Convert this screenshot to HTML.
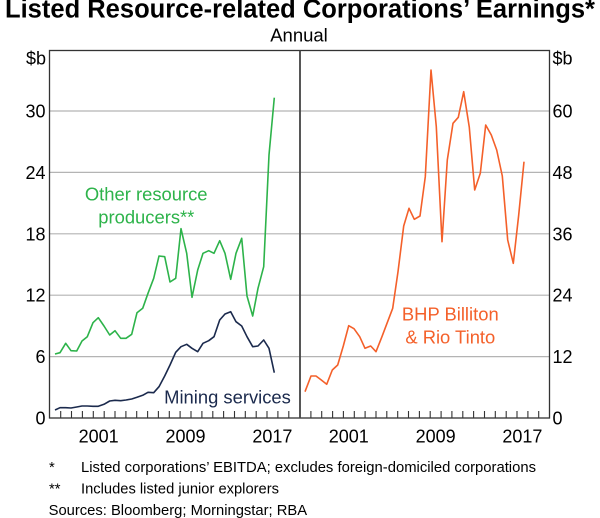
<!DOCTYPE html>
<html>
<head>
<meta charset="utf-8">
<style>
html,body{margin:0;padding:0;background:#fff;}
svg{display:block;}
text{font-family:"Liberation Sans",Arial,sans-serif;fill:#000;}
</style>
</head>
<body>
<svg width="600" height="518" viewBox="0 0 600 518" xmlns="http://www.w3.org/2000/svg">
<rect x="0" y="0" width="600" height="518" fill="#fff"/>
<!-- Title -->
<text x="300" y="17.5" font-size="25.5" font-weight="bold" text-anchor="middle" textLength="590" lengthAdjust="spacingAndGlyphs">Listed Resource-related Corporations’ Earnings*</text>
<text x="299" y="41.5" font-size="18.5" text-anchor="middle">Annual</text>

<!-- Gridlines -->
<g stroke="#b4b4b4" stroke-width="1.2">
<line x1="49.5" x2="549.5" y1="356.6" y2="356.6"/>
<line x1="49.5" x2="549.5" y1="295.2" y2="295.2"/>
<line x1="49.5" x2="549.5" y1="233.8" y2="233.8"/>
<line x1="49.5" x2="549.5" y1="172.4" y2="172.4"/>
<line x1="49.5" x2="549.5" y1="111.0" y2="111.0"/>
</g>

<!-- Ticks -->
<g stroke="#333" stroke-width="1.1">
<path d="M60.7 411V418M71.5 411V418M82.4 411V418M93.3 411V418M104.2 411V418M115.0 411V418M125.9 411V418M136.7 411V418M147.6 411V418M158.4 411V418M169.3 411V418M180.1 411V418M191.0 411V418M201.9 411V418M212.8 411V418M223.6 411V418M234.5 411V418M245.3 411V418M256.2 411V418M267.0 411V418M277.9 411V418M288.8 411V418"/>
<path d="M310.9 411V418M321.7 411V418M332.6 411V418M343.4 411V418M354.3 411V418M365.1 411V418M376.0 411V418M386.8 411V418M397.7 411V418M408.5 411V418M419.4 411V418M430.2 411V418M441.1 411V418M451.9 411V418M462.8 411V418M473.6 411V418M484.5 411V418M495.3 411V418M506.2 411V418M517.0 411V418M527.9 411V418M538.7 411V418"/>
</g>

<!-- Series -->
<polyline fill="none" stroke="#2db34a" stroke-width="1.6" stroke-linejoin="round" points="55.0,354.0 60.0,352.7 65.7,343.3 71.0,350.7 76.7,351.0 82.0,341.0 87.3,336.7 93.0,322.7 98.3,317.7 104.0,326.0 109.7,335.0 115.0,330.7 120.7,338.3 126.0,338.3 131.7,334.3 137.0,312.7 142.7,308.3 148.0,293.3 153.7,278.3 159.0,256.0 164.7,256.7 170.0,282.0 175.7,278.3 181.0,228.7 186.7,253.3 192.0,297.3 197.7,270.0 203.0,253.3 208.7,250.7 214.0,253.3 219.7,240.7 225.0,253.3 230.7,279.3 236.0,253.3 241.7,238.3 247.0,296.0 252.7,316.0 258.0,288.3 263.7,266.7 269.0,155.0 274.3,97.7"/>
<polyline fill="none" stroke="#1b2a4d" stroke-width="1.6" stroke-linejoin="round" points="55.0,410.0 60.0,407.7 65.7,407.7 71.0,408.0 76.7,407.0 82.0,406.0 87.3,406.0 93.0,406.3 98.3,406.3 104.0,404.3 109.7,401.0 115.0,400.3 120.7,400.7 126.0,400.0 131.7,399.0 137.0,397.3 142.7,395.3 148.0,392.3 153.7,392.7 159.0,386.7 164.7,376.0 170.0,365.0 175.7,352.3 181.0,346.7 186.7,344.3 192.0,348.3 197.7,351.7 203.0,343.3 208.7,340.7 214.0,336.7 219.7,320.0 225.0,314.0 230.7,311.7 236.0,321.7 241.7,326.0 247.0,336.7 252.7,346.7 258.0,346.0 263.7,340.0 269.0,348.3 274.3,372.7"/>
<polyline fill="none" stroke="#f4602a" stroke-width="1.6" stroke-linejoin="round" points="305.0,391.7 311.0,376.0 316.0,376.0 321.3,380.0 326.7,384.3 332.3,370.0 337.7,365.0 343.3,346.0 348.7,325.7 354.0,328.7 359.7,336.7 365.0,348.3 370.7,346.0 376.0,351.7 381.7,337.3 387.0,323.3 392.7,308.3 398.0,271.7 403.7,226.0 409.0,208.3 414.3,219.3 420.0,216.0 425.3,176.7 431.0,70.0 436.3,126.7 442.0,241.7 447.3,160.0 453.0,123.3 458.3,117.3 463.7,91.7 469.3,127.3 474.7,190.0 480.3,173.3 485.7,125.0 491.3,135.0 496.7,150.0 502.3,176.0 507.7,240.0 513.3,263.3 518.7,215.0 524.0,161.7"/>

<!-- Frame -->
<rect x="49.5" y="50.5" width="500" height="367.5" fill="none" stroke="#333" stroke-width="1.3"/>
<line x1="300" x2="300" y1="50.5" y2="418" stroke="#444" stroke-width="1.8"/>

<!-- Series labels -->
<g font-size="18.4">
<text x="146.2" y="200.7" text-anchor="middle" style="fill:#2db34a">Other resource</text>
<text x="146.3" y="223.3" text-anchor="middle" style="fill:#2db34a">producers**</text>
<text x="227.5" y="403.5" text-anchor="middle" style="fill:#1b2a4d">Mining services</text>
<text x="450.3" y="320.7" text-anchor="middle" style="fill:#f4602a">BHP Billiton</text>
<text x="450.3" y="343.3" text-anchor="middle" style="fill:#f4602a">&amp; Rio Tinto</text>
</g>

<!-- Left axis labels -->
<g font-size="18" text-anchor="end">
<text x="46" y="64.5">$b</text>
<text x="45.5" y="117.5">30</text>
<text x="45.5" y="178.9">24</text>
<text x="45.5" y="240.3">18</text>
<text x="45.5" y="301.7">12</text>
<text x="45.5" y="363.1">6</text>
<text x="45.5" y="424.5">0</text>
</g>
<!-- Right axis labels -->
<g font-size="18" text-anchor="start">
<text x="552.5" y="64.5">$b</text>
<text x="552.5" y="117.5">60</text>
<text x="552.5" y="178.9">48</text>
<text x="552.5" y="240.3">36</text>
<text x="552.5" y="301.7">24</text>
<text x="552.5" y="363.1">12</text>
<text x="552.5" y="424.5">0</text>
</g>

<!-- Year labels -->
<g font-size="18" text-anchor="middle">
<text x="98.6" y="442.5">2001</text>
<text x="185.5" y="442.5">2009</text>
<text x="272.4" y="442.5">2017</text>
<text x="348.8" y="442.5">2001</text>
<text x="435.6" y="442.5">2009</text>
<text x="522.4" y="442.5">2017</text>
</g>

<!-- Footnotes -->
<g font-size="14.8">
<text x="49" y="472">*</text>
<text x="81" y="472" textLength="455" lengthAdjust="spacingAndGlyphs">Listed corporations’ EBITDA; excludes foreign-domiciled corporations</text>
<text x="49" y="493.5">**</text>
<text x="81" y="493.5" textLength="198" lengthAdjust="spacingAndGlyphs">Includes listed junior explorers</text>
<text x="48.6" y="515" textLength="258.5" lengthAdjust="spacingAndGlyphs">Sources: Bloomberg; Morningstar; RBA</text>
</g>
</svg>
</body>
</html>
